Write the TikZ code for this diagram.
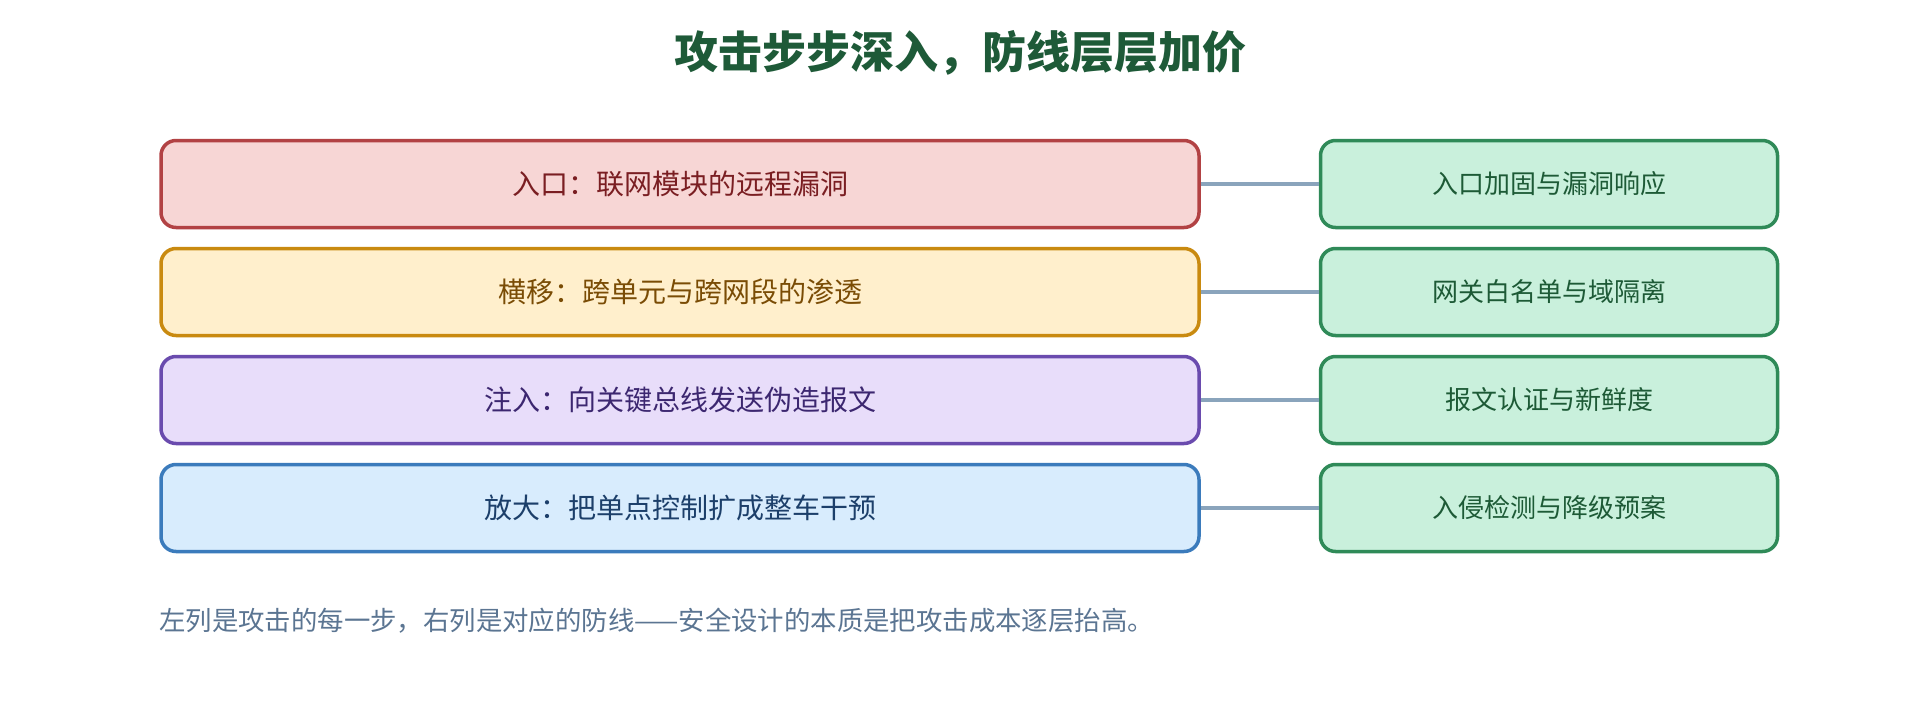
\documentclass[tikz,border=0pt]{standalone}
\usepackage{fontspec}
\setmainfont{Noto Sans CJK SC}
\definecolor{titlec}{HTML}{1E5A38}
\definecolor{redS}{HTML}{B24244}
\definecolor{redF}{HTML}{F7D6D5}
\definecolor{redT}{HTML}{7A1E22}
\definecolor{yelS}{HTML}{C98A10}
\definecolor{yelF}{HTML}{FFEFCC}
\definecolor{yelT}{HTML}{7A4C05}
\definecolor{purS}{HTML}{6A4BAE}
\definecolor{purF}{HTML}{E8DDFA}
\definecolor{purT}{HTML}{3C2770}
\definecolor{bluS}{HTML}{3B7BBC}
\definecolor{bluF}{HTML}{D8ECFD}
\definecolor{bluT}{HTML}{1C3F6A}
\definecolor{grnS}{HTML}{2F8A58}
\definecolor{grnF}{HTML}{C9F0DC}
\definecolor{grnT}{HTML}{1D5A36}
\definecolor{linkc}{HTML}{8AA4BC}
\definecolor{notec}{HTML}{5B7592}
\tikzset{
  attack/.style={draw=#1S, fill=#1F, text=#1T, line width=3.5pt, rounded corners=15pt,
    minimum width=1038pt, minimum height=87pt, inner sep=0pt,
    font=\fontsize{28}{34}\selectfont},
  defense/.style={draw=grnS, fill=grnF, text=grnT, line width=3.5pt, rounded corners=15pt,
    minimum width=457pt, minimum height=87pt, inner sep=0pt,
    font=\fontsize{26}{32}\selectfont},
  link/.style={draw=linkc, line width=4pt},
}
\begin{document}
\begin{tikzpicture}[x=1pt,y=1pt]
\useasboundingbox[fill=white] (0,0) rectangle (1920,-720);
\node[text=titlec, font=\fontsize{44}{52}\selectfont\bfseries] (title) at (960,-53) {攻击步步深入，防线层层加价};

\node[attack=red] (a1) at (680,-184) {入口：联网模块的远程漏洞};
\node[attack=yel] (a2) at (680,-292) {横移：跨单元与跨网段的渗透};
\node[attack=pur] (a3) at (680,-400) {注入：向关键总线发送伪造报文};
\node[attack=blu] (a4) at (680,-508) {放大：把单点控制扩成整车干预};

\node[defense] (d1) at (1549,-184) {入口加固与漏洞响应};
\node[defense] (d2) at (1549,-292) {网关白名单与域隔离};
\node[defense] (d3) at (1549,-400) {报文认证与新鲜度};
\node[defense] (d4) at (1549,-508) {入侵检测与降级预案};

\foreach \i in {1,2,3,4} {
  \draw[link] (a\i.east) -- (d\i.west);
}

\node[anchor=west, text=notec, font=\fontsize{26.4}{32}\selectfont, inner sep=0pt] (note) at (159,-621)
  {左列是攻击的每一步，右列是对应的防线——安全设计的本质是把攻击成本逐层抬高。};
\end{tikzpicture}
\end{document}
